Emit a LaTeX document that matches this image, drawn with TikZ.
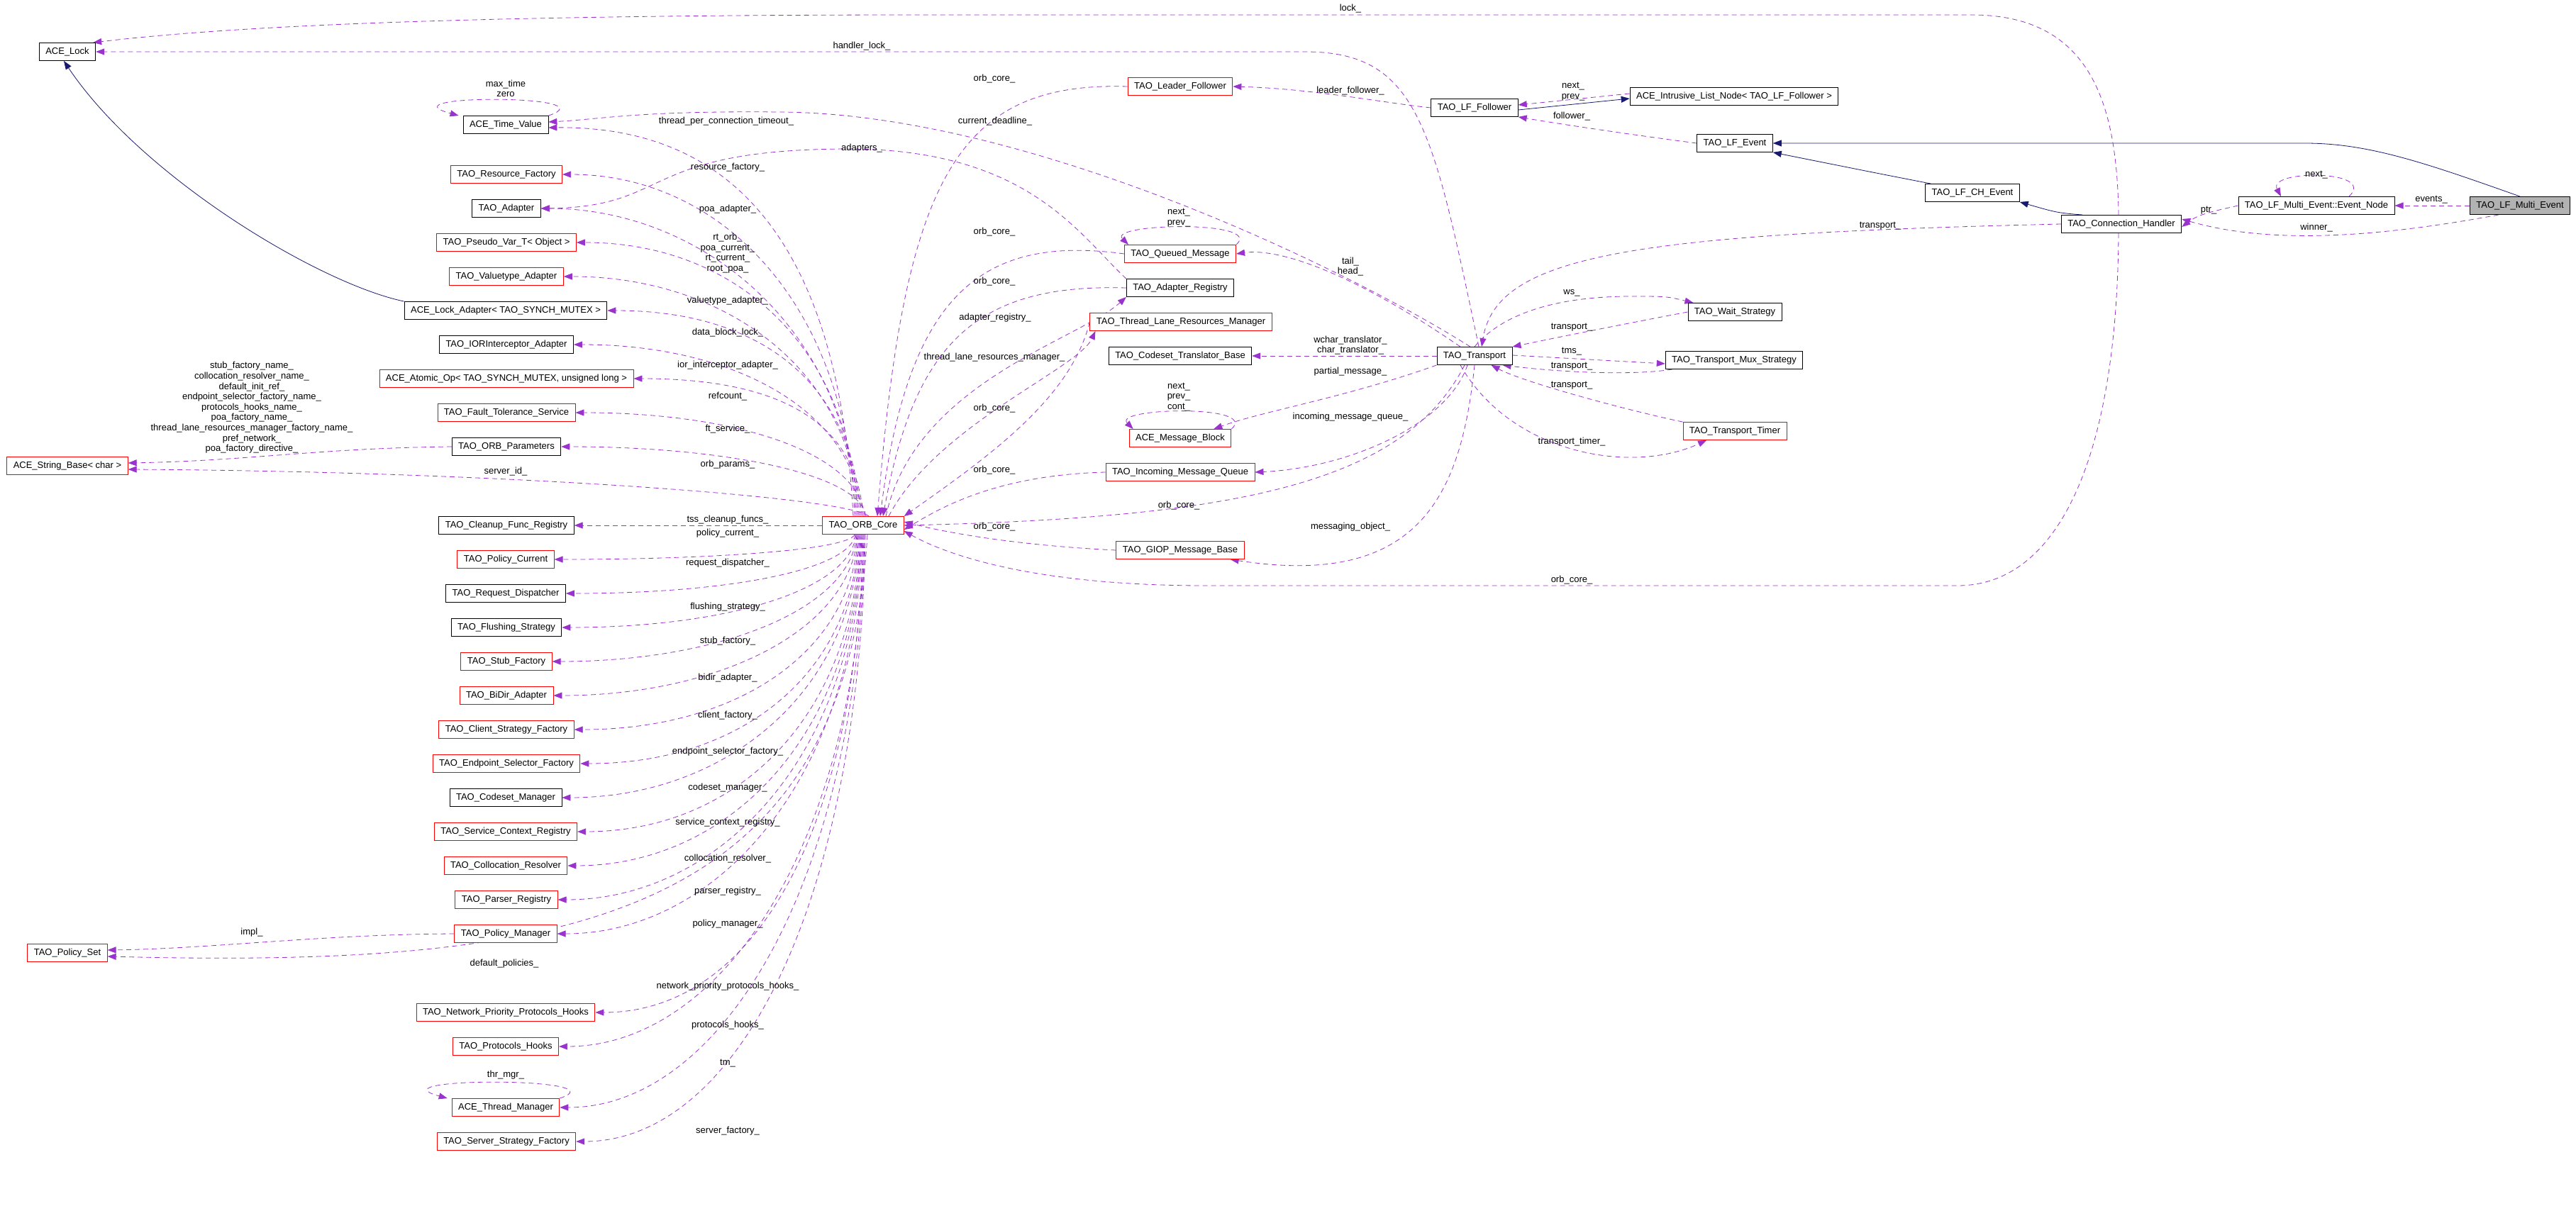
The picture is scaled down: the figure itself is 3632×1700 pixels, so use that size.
\documentclass[tikz,border=0pt]{standalone}
\usepackage{fontspec}
\setmainfont{Liberation Sans}
\usetikzlibrary{arrows.meta}
\definecolor{purp}{RGB}{154,50,205}
\definecolor{navy}{RGB}{25,25,112}
\pgfdeclarelayer{bg}
\pgfsetlayers{bg,main}
\begin{document}
\begin{tikzpicture}[x=1pt,y=-1pt,
  box/.style={draw=black, line width=0.9pt, inner xsep=9pt, inner ysep=0pt, minimum height=25pt, font=\fontsize{13}{14}\selectfont, fill=white},
  rbox/.style={box, draw=red},
  gbox/.style={box, fill=black!30},
  dep/.style={draw=purp, dash pattern=on 7pt off 5pt, line width=0.8pt, -{Triangle[length=12pt,width=9pt,fill=purp]}},
  inh/.style={draw=navy, line width=0.8pt, -{Triangle[length=12pt,width=9pt,fill=navy]}},
  lab/.style={font=\fontsize{13}{14.6}\selectfont, inner sep=0pt, align=center}]
\begin{pgfonlayer}{bg}
\fill[white] (0,0) rectangle (3632,1700);
\end{pgfonlayer}
\useasboundingbox (0,0) rectangle (3632,1700);
% nodes
\node[box]  (lock) at (95,73) {ACE\_Lock};
\node[box]  (tv)   at (713,176) {ACE\_Time\_Value};
\node[rbox] (resf) at (714,246) {TAO\_Resource\_Factory};
\node[box]  (adap) at (714,294) {TAO\_Adapter};
\node[rbox] (pvar) at (714,342) {TAO\_Pseudo\_Var\_T< Object >};
\node[rbox] (vta)  at (714,390) {TAO\_Valuetype\_Adapter};
\node[box]  (lad)  at (713,438) {ACE\_Lock\_Adapter< TAO\_SYNCH\_MUTEX >};
\node[box]  (ior)  at (714,486) {TAO\_IORInterceptor\_Adapter};
\node[rbox] (atom) at (714,534) {ACE\_Atomic\_Op< TAO\_SYNCH\_MUTEX, unsigned long >};
\node[rbox] (fts)  at (714,582) {TAO\_Fault\_Tolerance\_Service};
\node[box]  (orbp) at (714,630) {TAO\_ORB\_Parameters};
\node[rbox] (sb)   at (95,657) {ACE\_String\_Base< char >};
\node[box]  (cfr)  at (714,741) {TAO\_Cleanup\_Func\_Registry};
\node[rbox] (pcur) at (713,789) {TAO\_Policy\_Current};
\node[box]  (rdis) at (713,837) {TAO\_Request\_Dispatcher};
\node[box]  (flush) at (714,885) {TAO\_Flushing\_Strategy};
\node[rbox] (stub) at (714,933) {TAO\_Stub\_Factory};
\node[rbox] (bidir) at (714,981) {TAO\_BiDir\_Adapter};
\node[rbox] (csf)  at (714,1029) {TAO\_Client\_Strategy\_Factory};
\node[rbox] (esf)  at (714,1077) {TAO\_Endpoint\_Selector\_Factory};
\node[box]  (csm)  at (713,1125) {TAO\_Codeset\_Manager};
\node[rbox] (scr)  at (713,1173) {TAO\_Service\_Context\_Registry};
\node[rbox] (colr) at (713,1221) {TAO\_Collocation\_Resolver};
\node[rbox] (parr) at (714,1269) {TAO\_Parser\_Registry};
\node[rbox] (pman) at (713,1317) {TAO\_Policy\_Manager};
\node[rbox] (pset) at (95,1344) {TAO\_Policy\_Set};
\node[rbox] (nph)  at (713,1428) {TAO\_Network\_Priority\_Protocols\_Hooks};
\node[rbox] (ph)   at (713,1476) {TAO\_Protocols\_Hooks};
\node[rbox] (tmgr) at (713,1562) {ACE\_Thread\_Manager};
\node[rbox] (ssf)  at (714,1610) {TAO\_Server\_Strategy\_Factory};
\node[rbox] (orb)  at (1217,741) {TAO\_ORB\_Core};
\node[rbox] (lfol) at (1664,122) {TAO\_Leader\_Follower};
\node[box]  (lff)  at (2079,152) {TAO\_LF\_Follower};
\node[box]  (iln)  at (2445,136) {ACE\_Intrusive\_List\_Node< TAO\_LF\_Follower >};
\node[box]  (lfe)  at (2446,202) {TAO\_LF\_Event};
\node[rbox] (qm)   at (1664,358) {TAO\_Queued\_Message};
\node[box]  (ar)   at (1664,406) {TAO\_Adapter\_Registry};
\node[rbox] (tlrm) at (1665,454) {TAO\_Thread\_Lane\_Resources\_Manager};
\node[box]  (ctb)  at (1664,502) {TAO\_Codeset\_Translator\_Base};
\node[box]  (tr)   at (2079,502) {TAO\_Transport};
\node[box]  (ws)   at (2446,440) {TAO\_Wait\_Strategy};
\node[box]  (mux)  at (2445,508) {TAO\_Transport\_Mux\_Strategy};
\node[rbox] (tt)   at (2446,608) {TAO\_Transport\_Timer};
\node[rbox] (mb)   at (1664,618) {ACE\_Message\_Block};
\node[rbox] (imq)  at (1664,666) {TAO\_Incoming\_Message\_Queue};
\node[rbox] (giop) at (1664,776) {TAO\_GIOP\_Message\_Base};
\node[box]  (lfch) at (2781,272) {TAO\_LF\_CH\_Event};
\node[box]  (ch)   at (2991,316) {TAO\_Connection\_Handler};
\node[box]  (en)   at (3266,290) {TAO\_LF\_Multi\_Event::Event\_Node};
\node[gbox] (lme)  at (3553,290) {TAO\_LF\_Multi\_Event};

\begin{pgfonlayer}{bg}
% ORB_Core to upper left column
\foreach \n/\y/\s in {resf/246/-12,adap/294/-10,pvar/342/-8,vta/390/-6,lad/438/-4,ior/486/-2,atom/534/0,fts/582/2,orbp/630/4}{
  \draw[dep] ([xshift=\s]orb.north) .. controls +(-8,{-0.6*(729-\y)}) and +(230,0) .. (\n.east);
}
\foreach \n/\y/\s in {pcur/789/-12,rdis/837/-11,flush/885/-10,stub/933/-9,bidir/981/-8,csf/1029/-7,esf/1077/-6,csm/1125/-5,scr/1173/-4,colr/1221/-3,parr/1269/-2,pman/1317/-1,nph/1428/0,ph/1476/1,tmgr/1562/2,ssf/1610/3}{
  \draw[dep] ([xshift=\s]orb.south) .. controls +(-8,{0.6*(\y-754)}) and +(230,0) .. (\n.east);
}
\draw[dep] (orb.west) -- (cfr.east);
\draw[dep] ([xshift=-14]orb.north) .. controls (1180,300) and (1000,178) .. ([yshift=-4]tv.east);
\draw[dep] ([xshift=8]orb.north) .. controls (1190,700) and (700,665) .. ([yshift=-5]sb.east);
\draw[dep] ([xshift=6]orb.south) .. controls (1190,1300) and (800,1365) .. ([yshift=-5]pset.east);
\draw[dep] (orbp.west) .. controls (450,632) and (350,650) .. ([yshift=4]sb.east);
\draw[dep] (pman.west) .. controls (450,1318) and (300,1338) .. ([yshift=4]pset.east);
% self loops
\draw[dep] (tv.north east) .. controls +(90,-30) and +(-110,-30) .. ([xshift=-6]tv.north west);
\draw[dep] (tmgr.north east) .. controls +(90,-30) and +(-110,-30) .. ([xshift=-6]tmgr.north west);
\draw[dep] (qm.north east) .. controls +(40,-35) and +(-30,-30) .. ([xshift=6]qm.north west);
\draw[dep] (mb.north east) .. controls +(40,-35) and +(-30,-30) .. ([xshift=6]mb.north west);
\draw[dep] ([xshift=46]en.north) .. controls +(40,-38) and +(-20,-38) .. ([xshift=-50]en.north);
% inheritance
\draw[inh] (lad.north west) .. controls (450,400) and (200,250) .. ([xshift=-5]lock.south);
\draw[inh] ([yshift=-3]lff.east) -- ([yshift=-3]iln.west);
\draw[inh] (lme.north) .. controls (3420,230) and (3340,202) .. (3250,202) -- (lfe.east);
\draw[inh] ([xshift=8]lfch.north west) .. controls (2650,245) .. (lfe.south east);
\draw[inh] ([xshift=30]ch.north west) .. controls (2900,300) .. (lfch.south east);
% dependencies right part
\draw[dep] ([yshift=4]iln.west) -- ([yshift=4]lff.east);
\draw[dep] (lfe.west) .. controls (2300,190) and (2200,175) .. (lff.south east);
\draw[dep] (lff.west) .. controls (1950,145) and (1850,125) .. (lfol.east);
\draw[dep] (lme.west) -- (en.east);
\draw[dep] (en.west) .. controls (3120,298) and (3100,302) .. ([yshift=-4]ch.east);
\draw[dep] ([xshift=-30]lme.south) .. controls (3350,335) and (3200,345) .. ([yshift=7]ch.east);
\draw[dep] (ch.west) .. controls (2300,330) and (2110,360) .. ([xshift=10]tr.north);
\draw[dep] ([xshift=-4]ch.north) .. controls (2985,150) and (2950,21) .. (2780,21) -- (1300,21) .. controls (600,21) and (300,40) .. ([xshift=-4]lock.north east);
\draw[dep] ([xshift=-4]ch.south) .. controls (2985,650) and (2900,826) .. (2760,826) -- (1700,826) .. controls (1450,826) and (1330,780) .. ([yshift=-8]orb.east);
\draw[dep] ([xshift=6]tr.north) .. controls (2020,180) and (2000,73) .. (1840,73) -- (lock.east);
\draw[dep] ([xshift=-6]tr.north) .. controls (1900,380) and (1450,160) .. (1100,158) .. controls (900,156) and (850,168) .. ([yshift=4]tv.east);
\draw[dep] ([xshift=-20]tr.north) .. controls (1900,380) and (1800,350) .. (qm.east);
\draw[dep] (tr.west) -- (ctb.east);
\draw[dep] (tr.south west) .. controls (1900,560) and (1780,580) .. ([xshift=-25]mb.north east);
\draw[dep] ([xshift=-10]tr.south) .. controls (2040,600) and (1900,660) .. (imq.east);
\draw[dep] ([xshift=-14]tr.south) .. controls (1980,680) and (1750,730) .. (orb.east);
\draw[dep] ([xshift=0]tr.south) .. controls (2060,700) and (2000,830) .. ([xshift=-20]giop.south east);
\draw[dep] ([xshift=0]tr.north) .. controls (2120,440) and (2200,418) .. (2300,418) .. controls (2350,418) .. ([xshift=8]ws.north west);
\draw[dep] (ws.west) .. controls (2300,455) and (2200,475) .. (tr.north east);
\draw[dep] ([yshift=1]tr.east) -- ([yshift=-5]mux.west);
\draw[dep] ([xshift=10]mux.south west) .. controls (2300,530) and (2200,525) .. ([xshift=-14]tr.south east);
\draw[dep] (tt.north west) .. controls (2300,580) and (2150,540) .. ([xshift=-30]tr.south east);
\draw[dep] ([xshift=-20]tr.south) .. controls (2130,640) and (2300,670) .. ([xshift=-40]tt.south);
% ORB_Core related (middle)
\draw[dep] (lfol.west) .. controls (1350,115) and (1275,250) .. ([xshift=20]orb.north);
\draw[dep] (qm.west) .. controls (1380,330) and (1280,420) .. ([xshift=24]orb.north);
\draw[dep] (ar.west) .. controls (1380,400) and (1290,480) .. ([xshift=28]orb.north);
\draw[dep] ([xshift=32]orb.north) .. controls (1290,540) and (1520,480) .. (ar.south west);
\draw[dep] ([xshift=36]orb.north) .. controls (1320,600) and (1520,520) .. ([xshift=8]tlrm.south west);
\draw[dep] (tlrm.west) .. controls (1510,560) and (1400,640) .. (orb.north east);
\draw[dep] (imq.west) .. controls (1400,670) and (1320,720) .. ([yshift=-6]orb.east);
\draw[dep] (giop.west) .. controls (1450,770) and (1350,755) .. ([yshift=5]orb.east);
\draw[dep] (ar.north west) .. controls (1520,330) and (1450,212) .. (1200,210) .. controls (900,210) and (950,292) .. (adap.east);
\end{pgfonlayer}

% labels
\foreach \t/\y in {resource\_factory\_/236,poa\_adapter\_/295,valuetype\_adapter\_/424,data\_block\_lock\_/469,ior\_interceptor\_adapter\_/515,refcount\_/559,ft\_service\_/605,orb\_params\_/655,tss\_cleanup\_funcs\_/733,policy\_current\_/752,request\_dispatcher\_/794,flushing\_strategy\_/856,stub\_factory\_/904,bidir\_adapter\_/956,client\_factory\_/1009,endpoint\_selector\_factory\_/1060,codeset\_manager\_/1111,service\_context\_registry\_/1160,collocation\_resolver\_/1211,parser\_registry\_/1257,policy\_manager\_/1303,network\_priority\_protocols\_hooks\_/1391,protocols\_hooks\_/1446,tm\_/1500,server\_factory\_/1595}{
  \node[lab] at (1026,\y) {\t};
}
\node[lab] (l1) at (1026,357) {rt\_orb\_\\poa\_current\_\\rt\_current\_\\root\_poa\_};
\node[lab] (l2) at (1024,171) {thread\_per\_connection\_timeout\_};
\node[lab] (l3) at (713,125) {max\_time\\zero};
\node[lab] (l4) at (1215,209) {adapters\_};
\node[lab] (l5) at (713,665) {server\_id\_};
\node[lab] (l6) at (355,575) {stub\_factory\_name\_\\collocation\_resolver\_name\_\\default\_init\_ref\_\\endpoint\_selector\_factory\_name\_\\protocols\_hooks\_name\_\\poa\_factory\_name\_\\thread\_lane\_resources\_manager\_factory\_name\_\\pref\_network\_\\poa\_factory\_directive\_};
\node[lab] (l7) at (355,1315) {impl\_};
\node[lab] (l8) at (711,1359) {default\_policies\_};
\node[lab] (l9) at (713,1516) {thr\_mgr\_};
\node[lab] at (1215,65) {handler\_lock\_};
\node[lab] at (1904,12) {lock\_};
\node[lab] at (1402,111) {orb\_core\_};
\node[lab] at (1904,128) {leader\_follower\_};
\node[lab] at (2218,129) {next\_\\prev\_};
\node[lab] at (2216,164) {follower\_};
\node[lab] at (1403,171) {current\_deadline\_};
\node[lab] at (1662,307) {next\_\\prev\_};
\node[lab] at (1402,327) {orb\_core\_};
\node[lab] at (1904,376) {tail\_\\head\_};
\node[lab] at (1402,397) {orb\_core\_};
\node[lab] at (1403,448) {adapter\_registry\_};
\node[lab] at (2216,413) {ws\_};
\node[lab] at (2216,462) {transport\_};
\node[lab] at (1904,487) {wchar\_translator\_\\char\_translator\_};
\node[lab] at (1402,504) {thread\_lane\_resources\_manager\_};
\node[lab] at (2216,496) {tms\_};
\node[lab] at (2216,517) {transport\_};
\node[lab] at (1904,524) {partial\_message\_};
\node[lab] at (2216,544) {transport\_};
\node[lab] at (1662,560) {next\_\\prev\_\\cont\_};
\node[lab] at (1402,576) {orb\_core\_};
\node[lab] at (1904,588) {incoming\_message\_queue\_};
\node[lab] at (2216,623) {transport\_timer\_};
\node[lab] at (1402,663) {orb\_core\_};
\node[lab] at (1662,713) {orb\_core\_};
\node[lab] at (1402,743) {orb\_core\_};
\node[lab] at (1904,743) {messaging\_object\_};
\node[lab] at (2216,818) {orb\_core\_};
\node[lab] at (3266,247) {next\_};
\node[lab] at (3428,282) {events\_};
\node[lab] at (3114,297) {ptr\_};
\node[lab] at (3266,321) {winner\_};
\node[lab] at (2651,319) {transport\_};
\end{tikzpicture}
\end{document}
